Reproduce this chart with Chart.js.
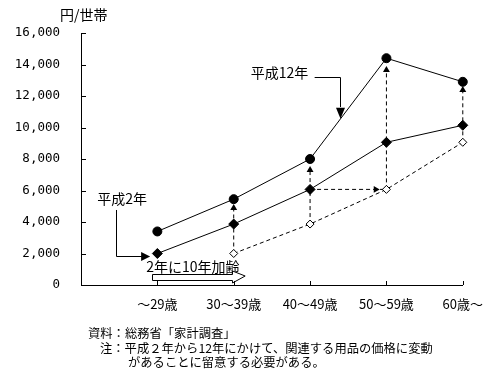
<!DOCTYPE html>
<html>
<head>
<meta charset="utf-8">
<script src="https://cdn.jsdelivr.net/npm/chart.js"></script>
<style>
body { margin: 0; background: #fff; }
#wrap { position: relative; width: 494px; height: 379px; font-family: "Noto Sans CJK JP", sans-serif; color: #000; }
#wrap canvas { position: absolute; left: 0; top: 0; }
.txt { position: absolute; white-space: nowrap; font-size: 12.3px; line-height: 14px; }
</style>
</head>
<body>
<div id="wrap">
  <canvas id="myChart" width="494" height="379"></canvas>
  <div class="txt" style="left:60px; top:6px; font-size:14px; line-height:16px;">円/世帯</div>
  <div class="txt" style="left:88px; top:326px;">資料：総務省「家計調査」</div>
  <div class="txt" style="left:100px; top:341px;">注：平成２年から12年にかけて、関連する用品の価格に変動</div>
  <div class="txt" style="left:128px; top:355px;">があることに留意する必要がある。</div>
</div>
<script>
// age groups on the x axis
const categories = ['～29歳', '30～39歳', '40～49歳', '50～59歳', '60歳～'];

// 円/世帯
const h12Values = [3400, 5450, 8000, 14400, 12900];   // 平成12年
const h2Values = [2000, 3870, 6070, 9060, 10140];     // 平成2年
const h2AgedValues = [null, 2000, 3870, 6070, 9060];  // 平成2年 +10歳 (shifted one group)
const arrowTopValues = [null, 4890, 7300, 13650, 12380]; // heads of the dashed up arrows

const yMax = 16000;
const yStep = 2000;

const labelH12 = '平成12年';
const labelH2 = '平成2年';
const labelAged = '2年に10年加齢';

function pts(values) {
    const out = [];
    for (let i = 0; i < values.length; i++) {
        if (values[i] !== null) out.push({x: i + 1, y: values[i]});
    }
    return out;
}

const dashed = [4, 3];

// dashed up arrows: from the shifted 平成2年 point to the 平成12年 point
const arrowSets = [];
for (let i = 0; i < categories.length; i++) {
    if (h2AgedValues[i] === null) continue;
    arrowSets.push({
        data: [{x: i + 1, y: h2AgedValues[i]}, {x: i + 1, y: arrowTopValues[i]}],
        borderColor: '#000', backgroundColor: '#000', borderWidth: 1, borderDash: dashed,
        pointStyle: 'triangle', pointRadius: [0, 4], pointBorderWidth: 0, clip: false
    });
}
// dashed sideways arrow: 40～49歳 of 平成2年 moved to 50～59歳
arrowSets.push({
    data: [{x: 3, y: h2Values[2]}, {x: 3.86, y: h2Values[2]}, {x: 4, y: h2Values[2]}],
    borderColor: '#000', backgroundColor: '#000', borderWidth: 1, borderDash: dashed,
    pointStyle: 'triangle', pointRotation: 90, pointRadius: [0, 4, 0], pointBorderWidth: 0, clip: false
});

const innerTicks = {
    id: 'innerTicks',
    afterDraw(chart) {
        const ctx = chart.ctx, xs = chart.scales.x, ys = chart.scales.y;
        ctx.save();
        ctx.strokeStyle = '#000';
        ctx.lineWidth = 1;
        ctx.beginPath();
        ys.ticks.forEach(t => {
            const y = Math.round(ys.getPixelForValue(t.value)) + 0.5;
            ctx.moveTo(xs.left, y);
            ctx.lineTo(xs.left + 5, y);
        });
        xs.ticks.forEach(t => {
            if (t.value === 0) return;
            const x = Math.round(xs.getPixelForValue(t.value)) + 0.5;
            ctx.moveTo(x, ys.bottom);
            ctx.lineTo(x, ys.bottom - 4);
        });
        ctx.stroke();
        ctx.restore();
    }
};

const callouts = {
    id: 'callouts',
    afterDatasetsDraw(chart) {
        const ctx = chart.ctx, xs = chart.scales.x, ys = chart.scales.y;
        const px = v => xs.getPixelForValue(v);
        const py = v => ys.getPixelForValue(v);
        ctx.save();
        ctx.fillStyle = '#000';
        ctx.strokeStyle = '#000';
        ctx.lineWidth = 1;
        ctx.font = '14px "Noto Sans CJK JP"';
        ctx.textAlign = 'center';
        ctx.textBaseline = 'middle';

        // 平成12年 label with bent arrow down onto the line
        ctx.fillText(labelH12, px(2.6), py(13460));
        let x = Math.round(px(3.39)) + 0.5;
        let y = Math.round(py(13206)) + 0.5;
        ctx.beginPath();
        ctx.moveTo(px(3.06), y);
        ctx.lineTo(x, y);
        ctx.lineTo(x, py(11300));
        ctx.stroke();
        let tip = py(10560);
        ctx.beginPath();
        ctx.moveTo(x, tip);
        ctx.lineTo(x - 4.5, tip - 11);
        ctx.lineTo(x + 4.5, tip - 11);
        ctx.closePath();
        ctx.fill();

        // 平成2年 label with bent arrow to the first point
        ctx.fillText(labelH2, px(0.54), py(5460));
        x = Math.round(px(0.458)) + 0.5;
        y = Math.round(py(1841)) + 0.5;
        ctx.beginPath();
        ctx.moveTo(x, py(4762));
        ctx.lineTo(x, y);
        ctx.lineTo(px(0.80), y);
        ctx.stroke();
        tip = px(0.905);
        ctx.beginPath();
        ctx.moveTo(tip, y);
        ctx.lineTo(tip - 9, y - 4.5);
        ctx.lineTo(tip - 9, y + 4.5);
        ctx.closePath();
        ctx.fill();

        // 2年に10年加齢 with hollow arrow
        ctx.fillText(labelAged, px(1.466), py(1143));
        const x0 = Math.round(px(0.93)) + 0.5, x1 = Math.round(px(1.98)) + 0.5, x2 = px(2.15);
        const yt = Math.round(py(698)) + 0.5, yb = Math.round(py(317)) + 0.5;
        ctx.beginPath();
        ctx.moveTo(x0, yt);
        ctx.lineTo(x1, yt);
        ctx.lineTo(x1, py(889));
        ctx.lineTo(x2, py(571));
        ctx.lineTo(x1, py(127));
        ctx.lineTo(x1, yb);
        ctx.lineTo(x0, yb);
        ctx.closePath();
        ctx.fillStyle = '#fff';
        ctx.fill();
        ctx.stroke();
        ctx.restore();
    }
};

Chart.defaults.font.family = '"Noto Sans CJK JP", sans-serif';
Chart.defaults.color = '#000';

const config = {
    type: 'line',
    data: {
        datasets: [
            {
                label: labelH12, data: pts(h12Values),
                borderColor: '#000', backgroundColor: '#000', borderWidth: 1,
                pointStyle: 'circle', pointRadius: 4.5, pointBorderWidth: 1, clip: false
            },
            {
                label: labelH2, data: pts(h2Values),
                borderColor: '#000', backgroundColor: '#000', borderWidth: 1,
                pointStyle: 'rectRot', pointRadius: 5, pointBorderWidth: 1, clip: false
            },
            {
                label: labelAged, data: pts(h2AgedValues),
                borderColor: '#000', backgroundColor: '#fff', borderWidth: 1, borderDash: dashed,
                pointStyle: 'rectRot', pointRadius: 4, pointBorderWidth: 1, clip: false
            }
        ].concat(arrowSets)
    },
    options: {
        responsive: false,
        animation: false,
        layout: {padding: {top: 33, right: 31, bottom: 0, left: 0}},
        plugins: {legend: {display: false}, tooltip: {enabled: false}},
        scales: {
            x: {
                type: 'linear', min: 0, max: categories.length,
                grid: {display: false, drawTicks: false},
                border: {display: true, color: '#000', width: 1},
                ticks: {
                    stepSize: 1, autoSkip: false, maxRotation: 0, padding: 11,
                    font: {size: 13},
                    callback: v => categories[v - 1] || ''
                },
                afterFit: s => { s.height = 94; }
            },
            y: {
                min: 0, max: yMax,
                grid: {display: false, drawTicks: false},
                border: {display: true, color: '#000', width: 1},
                ticks: {
                    stepSize: yStep, padding: 21,
                    font: {family: '"DejaVu Sans Mono"', size: 12.5},
                    callback: v => v.toLocaleString('en-US')
                },
                afterFit: s => { s.width = 81; }
            }
        }
    },
    plugins: [innerTicks, callouts]
};

const myChart = new Chart(document.getElementById('myChart'), config);
</script>
</body>
</html>
